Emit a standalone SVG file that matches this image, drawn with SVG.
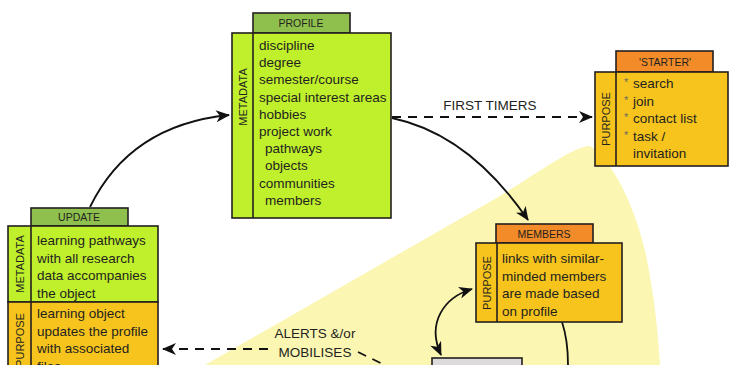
<svg xmlns="http://www.w3.org/2000/svg" width="729" height="365" viewBox="0 0 729 365">
  <defs>
    <style>
      text { font-family: "Liberation Sans", Arial, sans-serif; fill: #231f20; }
      .body { font-size: 13.5px; }
      .tab-label { font-size: 10.5px; text-anchor: middle; }
      .side-label { font-size: 11px; text-anchor: middle; }
      .edge-label { font-size: 13.5px; text-anchor: middle; }
      .star { font-size: 11px; fill: #6d6a5e; }
      .box { stroke: #231f20; stroke-width: 1.6; }
      .meta { fill: #c0ef2c; }
      .meta-tab { fill: #8fc04e; }
      .purpose { fill: #f7c41d; }
      .purpose-tab { fill: #f28b28; }
      .grey { fill: #dddbdc; }
      .solid { fill: none; stroke: #111; stroke-width: 1.8; }
      .dashed { fill: none; stroke: #111; stroke-width: 1.8; stroke-dasharray: 9 7; }
    </style>
    <marker id="arrow" viewBox="0 0 14 12" refX="13" refY="6" markerWidth="14" markerHeight="12" markerUnits="userSpaceOnUse" orient="auto-start-reverse">
      <path d="M0,0 L14,6 L0,12 L4,6 Z" fill="#111"/>
    </marker>
  </defs>

  <!-- pale sector behind the lower right area -->
  <path d="M205 365 L500 196 C545 168 575 146 590 146 C612 160 635 205 646 255 C654 295 658 330 660 365 Z" fill="#fbf6b2"/>

  <!-- connectors -->
  <g id="connectors">
    <path class="solid" d="M90 207 Q130 125 229 115" marker-end="url(#arrow)"/>
    <path class="solid" d="M392 118 C430 126 480 150 528 220" marker-end="url(#arrow)"/>
    <path class="dashed" d="M392 117 L592 117" marker-end="url(#arrow)"/>
    <text class="edge-label" x="490" y="110">FIRST TIMERS</text>
    <path class="solid" d="M472 289 C445 297 426 322 441 355" marker-start="url(#arrow)" marker-end="url(#arrow)"/>
    <path class="solid" d="M562 322 Q568 340 568 365"/>
    <path class="dashed" d="M268 349 L163 349" marker-end="url(#arrow)"/>
    <path class="dashed" d="M358 352 L395 370"/>
    <text class="edge-label" x="315" y="338">ALERTS &amp;/or</text>
    <text class="edge-label" x="315" y="357">MOBILISES</text>
  </g>

  <!-- PROFILE -->
  <g id="profile">
    <rect class="box meta-tab" x="253" y="13" width="97" height="20"/>
    <text class="tab-label" x="301" y="27">PROFILE</text>
    <rect class="box meta" x="232" y="33" width="159" height="185"/>
    <line class="box" x1="253" y1="33" x2="253" y2="218"/>
    <text class="side-label" transform="translate(247,97) rotate(-90)">METADATA</text>
    <text class="body" x="259" y="50">discipline</text>
    <text class="body" x="259" y="67.2">degree</text>
    <text class="body" x="259" y="84.4">semester/course</text>
    <text class="body" x="259" y="101.6">special interest areas</text>
    <text class="body" x="259" y="118.8">hobbies</text>
    <text class="body" x="259" y="136">project work</text>
    <text class="body" x="265" y="153.2">pathways</text>
    <text class="body" x="265" y="170.4">objects</text>
    <text class="body" x="259" y="187.6">communities</text>
    <text class="body" x="265" y="204.8">members</text>
  </g>

  <!-- 'STARTER' -->
  <g id="starter">
    <rect class="box purpose-tab" x="616" y="51" width="97" height="21"/>
    <text class="tab-label" x="665" y="66">'STARTER'</text>
    <rect class="box purpose" x="595" y="72" width="133" height="94"/>
    <line class="box" x1="616" y1="72" x2="616" y2="166"/>
    <text class="side-label" transform="translate(610,119) rotate(-90)">PURPOSE</text>
    <text class="star" x="624" y="86">*</text><text class="body" x="633" y="88">search</text>
    <text class="star" x="624" y="103.5">*</text><text class="body" x="633" y="105.5">join</text>
    <text class="star" x="624" y="121">*</text><text class="body" x="633" y="123">contact list</text>
    <text class="star" x="624" y="138.5">*</text><text class="body" x="633" y="140.5">task /</text>
    <text class="body" x="633" y="158">invitation</text>
  </g>

  <!-- UPDATE -->
  <g id="update">
    <rect class="box meta-tab" x="31" y="208" width="97" height="18"/>
    <text class="tab-label" x="79" y="221">UPDATE</text>
    <rect class="box meta" x="8" y="226" width="150" height="76"/>
    <rect class="box purpose" x="8" y="302" width="150" height="75"/>
    <line class="box" x1="31" y1="226" x2="31" y2="377"/>
    <text class="side-label" transform="translate(24,264) rotate(-90)">METADATA</text>
    <text class="side-label" transform="translate(24,340) rotate(-90)">PURPOSE</text>
    <text class="body" x="37" y="245">learning pathways</text>
    <text class="body" x="37" y="262.5">with all research</text>
    <text class="body" x="37" y="280">data accompanies</text>
    <text class="body" x="37" y="297.5">the object</text>
    <text class="body" x="37" y="318">learning object</text>
    <text class="body" x="37" y="335.5">updates the profile</text>
    <text class="body" x="37" y="353">with associated</text>
    <text class="body" x="37" y="370.5">files</text>
  </g>

  <!-- MEMBERS -->
  <g id="members">
    <rect class="box purpose-tab" x="496" y="224" width="97" height="19"/>
    <text class="tab-label" x="544" y="237.5">MEMBERS</text>
    <rect class="box purpose" x="476" y="243" width="146" height="79"/>
    <line class="box" x1="497" y1="243" x2="497" y2="322"/>
    <text class="side-label" transform="translate(491,283) rotate(-90)">PURPOSE</text>
    <text class="body" x="502" y="263">links with similar-</text>
    <text class="body" x="502" y="280.5">minded members</text>
    <text class="body" x="502" y="298">are made based</text>
    <text class="body" x="502" y="315.5">on profile</text>
  </g>

  <!-- grey box at the lower edge -->
  <g id="grey-node">
    <rect class="box grey" x="432" y="358" width="90" height="20"/>
  </g>
</svg>
